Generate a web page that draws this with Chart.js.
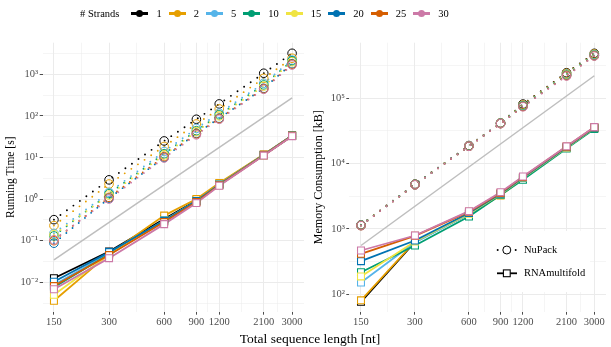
<!DOCTYPE html>
<html>
<head>
<meta charset="utf-8">
<script src="https://cdn.jsdelivr.net/npm/chart.js@4.4.0/dist/chart.umd.min.js"></script>
<style>
  body { margin: 0; background: #fff; }
  #fig { position: relative; width: 611px; height: 347px; overflow: hidden;
         font-family: 'Liberation Serif', 'Times New Roman', serif; color: #000; }
  #timeChart { position: absolute; left: 0; top: 0; }
  #memChart { position: absolute; left: 310px; top: 0; }
  #legend { position: absolute; left: 80px; top: 5px; height: 17px; display: flex;
            align-items: center; font-size: 10.5px; white-space: nowrap; }
  #legend .ttl { margin-right: 12px; }
  #legend .key { position: relative; width: 17px; height: 2.5px; background: var(--c); margin-right: 8px; }
  #legend .key::after { content: ''; position: absolute; left: 5px; top: -2.25px; width: 7px; height: 7px;
                        border-radius: 50%; background: var(--c); }
  #legend .lab { margin-right: 7px; }
  #xlab { position: absolute; left: 0; width: 620px; top: 331px; text-align: center;
          font-size: 13.5px; line-height: 16px; }
</style>
</head>
<body>
<div id="fig">
  <canvas id="timeChart" width="310" height="347"></canvas>
  <canvas id="memChart" width="302" height="347"></canvas>
  <div id="legend"></div>
  <div id="xlab">Total sequence length [nt]</div>
</div>
<script>
// ---------------- data ----------------
const lengths = [150, 300, 600, 900, 1200, 2100, 3000];
const strands = [1, 2, 5, 10, 15, 20, 25, 30];
const strandColors = ['#000000', '#E69F00', '#56B4E9', '#009E73', '#F0E442', '#0072B2', '#D55E00', '#CC79A7'];

const timeTicks = [0.01, 0.1, 1, 10, 100, 1000];
const timeTickLabels = ['10⁻²', '10⁻¹', '10⁰', '10¹', '10²', '10³'];
const memTicks = [100, 1000, 10000, 100000];
const memTickLabels = ['10²', '10³', '10⁴', '10⁵'];

// running time [s], one row per strand count
const nupackTime = [
  [0.32, 2.9, 25, 83, 194, 1060, 3200],
  [0.23, 2.3, 18.4, 64, 147, 800, 2430],
  [0.15, 1.45, 13.9, 50, 116, 610, 2200],
  [0.13, 1.35, 12.3, 44, 106, 555, 2120],
  [0.14, 1.25, 11.5, 42, 100, 520, 2000],
  [0.087, 1.05, 10, 38, 88, 460, 1800],
  [0.10, 1.1, 10.5, 37, 86, 450, 1750],
  [0.105, 1.0, 9.7, 35, 83, 436, 1670]
];
const rnamfTime = [
  [0.0125, 0.055, 0.33, 0.92, 2.3, 11.6, 34],
  [0.0036, 0.048, 0.40, 1.0, 2.42, 11.8, 34],
  [0.0086, 0.05, 0.31, 0.9, 2.25, 11.5, 33.5],
  [0.0076, 0.047, 0.30, 0.88, 2.2, 11.4, 33],
  [0.0050, 0.046, 0.30, 0.88, 2.2, 11.4, 33],
  [0.0103, 0.053, 0.30, 0.9, 2.2, 11.5, 33.5],
  [0.0081, 0.045, 0.28, 0.85, 2.15, 11.3, 33],
  [0.0068, 0.038, 0.25, 0.8, 2.09, 11.1, 32.5]
];

// memory consumption [kB]
const nupackMem = [
  [1150, 4850, 18900, 42000, 81700, 247000, 490000],
  [1140, 4800, 18700, 41800, 80000, 242000, 480000],
  [1130, 4780, 18600, 41500, 78000, 235000, 470000],
  [1130, 4760, 18500, 41300, 77000, 232000, 462000],
  [1125, 4750, 18500, 41200, 76000, 230000, 458000],
  [1125, 4740, 18450, 41100, 75500, 226000, 452000],
  [1120, 4735, 18400, 41000, 75000, 223000, 449000],
  [1120, 4730, 18400, 41000, 74300, 220000, 446000]
];
const rnamfMem = [
  [76, 630, 1700, 3400, 6000, 17500, 35000],
  [80, 640, 1680, 3240, 5900, 17500, 35000],
  [150, 620, 1680, 3350, 5950, 17500, 35000],
  [216, 555, 1545, 3300, 5650, 17000, 33900],
  [186, 640, 1700, 3400, 6000, 17500, 35000],
  [319, 662, 1750, 3450, 6100, 17800, 35500],
  [414, 780, 1820, 3550, 6250, 18200, 36000],
  [465, 789, 1862, 3640, 6340, 18400, 36300]
];

// grey guide lines (cubic for time, quadratic for memory) between first and last length
const guideX = [150, 3000];
const guideTime = [0.0344, 272];
const guideMem = [555, 222000];

// ---------------- helpers ----------------
const FONT = "'Liberation Serif', 'Times New Roman', serif";
const pts = (xs, ys) => xs.map((x, i) => ({ x: x, y: ys[i] }));

function buildDatasets(nupack, rnamf, guideY) {
  const sets = [];
  sets.push({ data: pts(guideX, guideY), borderColor: '#BEBEBE', borderWidth: 1.5, pointRadius: 0 });
  strands.forEach((s, i) => {
    sets.push({ data: pts(lengths, nupack[i]), borderColor: strandColors[i], borderWidth: 1.9,
                borderDash: [0, 8], borderCapStyle: 'round', pointRadius: 0 });
    sets.push({ data: pts(lengths, rnamf[i]), borderColor: strandColors[i], borderWidth: 1.8, pointRadius: 0 });
  });
  strands.forEach((s, i) => {
    sets.push({ data: pts(lengths, nupack[i]), showLine: false, pointStyle: 'circle', pointRadius: 4.3,
                pointBorderWidth: 1, pointBorderColor: strandColors[i], pointBackgroundColor: 'rgba(0,0,0,0)' });
    sets.push({ data: pts(lengths, rnamf[i]), showLine: false, pointStyle: 'rect', pointRadius: 4.9,
                pointBorderWidth: 1.1, pointBorderColor: strandColors[i], pointBackgroundColor: '#fff' });
  });
  // later datasets on top
  sets.forEach((d, k) => { d.order = sets.length - k; d.tension = 0; });
  return sets;
}

function logAxis(min, max, majors, labels, minors, extra) {
  return Object.assign({
    type: 'logarithmic', min: min, max: max,
    border: { display: false },
    grid: {
      color: '#EBEBEB',
      lineWidth: c => (c.tick && c.tick.mj ? 1 : 0.5),
      tickColor: c => (c.tick && c.tick.mj ? '#4D4D4D' : 'rgba(0,0,0,0)'),
      tickLength: 3
    },
    afterBuildTicks: axis => {
      const t = majors.map((v, i) => ({ value: v, mj: true, lab: labels[i] }));
      minors.filter(v => v > min && v < max).forEach(v => t.push({ value: v, mj: false }));
      t.sort((a, b) => a.value - b.value);
      axis.ticks = t;
    },
    ticks: {
      autoSkip: false, maxRotation: 0, color: '#4D4D4D',
      font: { family: FONT, size: 10.5 },
      callback: (v, i, ticks) => (ticks[i].mj ? ticks[i].lab : '')
    }
  }, extra);
}

const xMinors = lengths.slice(1).map((v, i) => Math.sqrt(v * lengths[i]));
const halfDecades = (lo, hi) => { const r = []; for (let k = lo; k <= hi; k++) r.push(Math.pow(10, k + 0.5)); return r; };

function xAxis(min, max) {
  const a = logAxis(min, max, lengths, lengths.map(String), xMinors, {
    afterFit: s => { s.height = 18; }
  });
  a.ticks.padding = 1;
  return a;
}

function yAxis(min, max, majors, labels, title, titleSize, titlePad, width) {
  const a = logAxis(min, max, majors, labels, halfDecades(-4, 6), {
    afterFit: s => { s.width = width; },
    title: { display: true, text: title, color: '#000', font: { family: FONT, size: titleSize },
             padding: { top: titlePad, bottom: 0 } }
  });
  a.ticks.padding = 1.5;
  return a;
}

const baseOptions = (x, y, padding) => ({
  responsive: false, animation: false, events: [],
  layout: { padding: padding },
  plugins: { legend: { display: false }, tooltip: { enabled: false } },
  scales: { x: x, y: y }
});

// ---------------- running time ----------------
new Chart(document.getElementById('timeChart'), {
  type: 'line',
  data: { datasets: buildDatasets(nupackTime, rnamfTime, guideTime) },
  options: baseOptions(
    xAxis(130.2, 3485),
    yAxis(0.00196, 5750, timeTicks, timeTickLabels, 'Running Time [s]', 11.5, 4, 42.7),
    { left: 0, right: 5, top: 42.7, bottom: 17.3 }
  )
});

// ---------------- memory ----------------
const insetLegend = {
  id: 'insetLegend',
  afterDraw(chart) {
    const ctx = chart.ctx;
    ctx.save();
    ctx.fillStyle = '#fff';
    ctx.fillRect(177, 231, 103, 61);
    ctx.strokeStyle = '#000';
    ctx.fillStyle = '#000';
    // NuPack key: dotted line with open circle
    const y1 = 250, y2 = 273.3, cx = 196.8;
    [187.7, 205.7].forEach(x => { ctx.beginPath(); ctx.arc(x, y1, 1, 0, Math.PI * 2); ctx.fill(); });
    ctx.lineWidth = 1;
    ctx.beginPath(); ctx.arc(cx, y1, 4, 0, Math.PI * 2); ctx.stroke();
    // RNAmultifold key: solid line with open square
    ctx.lineWidth = 1.8;
    ctx.beginPath(); ctx.moveTo(187, y2); ctx.lineTo(207, y2); ctx.stroke();
    ctx.fillStyle = '#fff';
    ctx.fillRect(cx - 3.4, y2 - 3.4, 6.8, 6.8);
    ctx.lineWidth = 1.1;
    ctx.strokeRect(cx - 3.4, y2 - 3.4, 6.8, 6.8);
    ctx.fillStyle = '#000';
    ctx.font = '10.5px ' + FONT;
    ctx.textBaseline = 'middle';
    ctx.fillText('NuPack', 214, y1);
    ctx.fillText('RNAmultifold', 214, y2);
    ctx.restore();
  }
};

new Chart(document.getElementById('memChart'), {
  type: 'line',
  data: { datasets: buildDatasets(nupackMem, rnamfMem, guideMem) },
  options: baseOptions(
    xAxis(129.1, 3485),
    yAxis(53.6, 713000, memTicks, memTickLabels, 'Memory Consumption [kB]', 12, 1.5, 39.3),
    { left: 0, right: 0, top: 42.7, bottom: 17.3 }
  ),
  plugins: [insetLegend]
});

// ---------------- strand legend ----------------
document.getElementById('legend').innerHTML = '<span class="ttl"># Strands</span>' +
  strands.map((s, i) => `<span class="key" style="--c:${strandColors[i]}"></span><span class="lab">${s}</span>`).join('');
</script>
</body>
</html>
